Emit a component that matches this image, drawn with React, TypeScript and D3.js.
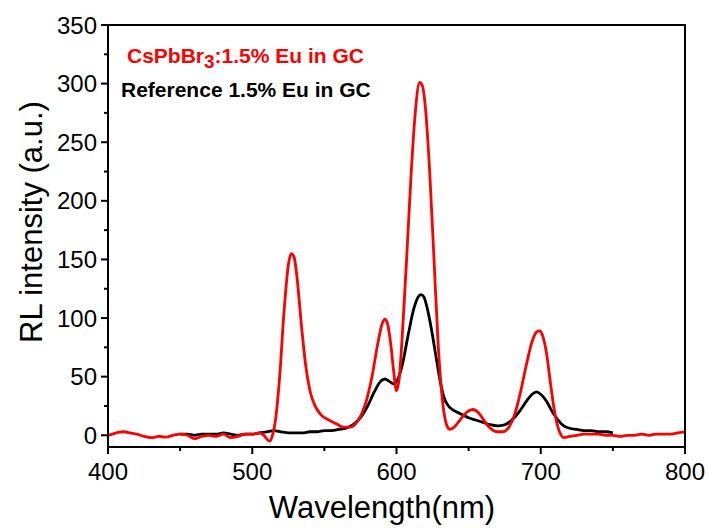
import * as d3 from 'd3'

// CsPbBr3:1.5% Eu in GC (red)
const redWavelength = [400, 403, 407, 411, 415, 420, 425, 430, 435, 440, 445, 450, 455, 460, 465, 470, 475, 480, 485, 490, 495, 500, 505, 508, 512, 514, 516, 519, 522, 525, 527, 529, 531, 534, 537, 540, 544, 548, 553, 558, 563, 568, 573, 578, 583, 587, 590, 592, 594, 596, 598, 600, 602, 604, 607, 610, 613, 616, 618, 620, 623, 626, 629, 632, 635, 637, 640, 644, 649, 653, 657, 661, 665, 670, 674, 678, 682, 686, 690, 694, 697, 699, 701, 704, 707, 710, 713, 716, 720, 725, 730, 735, 740, 745, 750, 755, 760, 765, 770, 775, 780, 785, 790, 795, 800]
const redIntensity = [0, 1, 2.5, 3, 2, 1, -1, -2, -1, -1.5, 0, 1, 0, -3, -1, 0, -1, 1, -2, -1, 1, 1, 2, 0, -5, 0, 12, 50, 105, 145, 155, 152, 135, 95, 60, 38, 24, 17, 13, 10, 7, 7, 12, 25, 50, 78, 95, 99, 94, 78, 55, 38, 50, 85, 150, 220, 275, 301, 298, 280, 225, 150, 75, 28, 8, 5, 7, 13, 20, 22, 19, 12, 6, 3, 3, 7, 18, 37, 60, 80, 88, 89, 86, 70, 42, 17, 3, -2, -1, 0, 1, 1, 1, 0, 0, -1, 0, 0, 1, 0, 1, 1, 1, 2, 3]

// Reference 1.5% Eu in GC (black)
const blackWavelength = [450, 455, 460, 465, 470, 475, 480, 485, 490, 495, 500, 505, 510, 515, 520, 525, 530, 535, 540, 545, 550, 555, 560, 565, 570, 575, 580, 585, 589, 592, 595, 598, 601, 604, 608, 612, 615, 617, 619, 621, 624, 627, 630, 633, 636, 640, 645, 650, 655, 660, 665, 670, 675, 680, 685, 690, 694, 697, 700, 704, 708, 712, 716, 720, 725, 730, 735, 740, 745, 750]
const blackIntensity = [1, 1, 0, 1, 1, 1, 2, 1, 0, 1, 1, 2, 3, 4, 3, 2, 2, 2, 3, 3, 4, 4, 5, 6, 9, 15, 25, 38, 46, 48, 46, 44, 48, 60, 85, 108, 118, 120, 118, 110, 92, 70, 48, 32, 25, 21, 18, 15, 13, 11, 9, 8, 9, 13, 20, 29, 35, 37, 35, 29, 20, 13, 8, 6, 5, 4, 4, 3, 3, 2]

const xTicks = [400, 500, 600, 700, 800]
const yTicks = [0, 50, 100, 150, 200, 250, 300, 350]

const W = 708
const H = 528
const left = 108
const right = 685
const top = 25
const bottom = 447
const font = 'Arial, "Liberation Sans", sans-serif'

const App = () => {
  const x = d3.scaleLinear().domain([400, 800]).range([left, right])
  const y = d3.scaleLinear().domain([-10, 350]).range([bottom, top])

  const makePath = d3.line<[number, number]>()
    .x((d) => x(d[0]))
    .y((d) => y(d[1]))
    .curve(d3.curveMonotoneX)

  const redPath = makePath(redWavelength.map((w, i) => [w, redIntensity[i]]))
  const blackPath = makePath(blackWavelength.map((w, i) => [w, blackIntensity[i]]))

  const xMinor = d3.range(450, 800, 100)
  const yMinor = d3.range(25, 350, 50)

  return (
    <svg width={W} height={H} style={{ position: 'absolute', left: 0, top: 0 }} fontFamily={font}>
      <rect x={0} y={0} width={W} height={H} fill='white' />
      <defs>
        <clipPath id='plot'>
          <rect x={left} y={top} width={right - left} height={bottom - top} />
        </clipPath>
      </defs>
      <g clipPath='url(#plot)' fill='none' strokeWidth={2.8} strokeLinejoin='round'>
        <path d={blackPath ?? ''} stroke='black' />
        <path d={redPath ?? ''} stroke='#ff0000' />
      </g>
      <rect x={left} y={top} width={right - left} height={bottom - top} fill='none' stroke='black' strokeWidth={2} />
      {yTicks.map((t) => (
        <g key={'y' + t}>
          <line x1={left - 7} x2={left} y1={y(t)} y2={y(t)} stroke='black' strokeWidth={2} />
          <text x={left - 11} y={y(t)} dy='0.36em' textAnchor='end' fontSize={24}>{t}</text>
        </g>
      ))}
      {yMinor.map((t) => (
        <line key={'ym' + t} x1={left - 4} x2={left} y1={y(t)} y2={y(t)} stroke='black' strokeWidth={2} />
      ))}
      {xTicks.map((t) => (
        <g key={'x' + t}>
          <line x1={x(t)} x2={x(t)} y1={bottom} y2={bottom + 7} stroke='black' strokeWidth={2} />
          <text x={x(t)} y={bottom + 33} textAnchor='middle' fontSize={24}>{t}</text>
        </g>
      ))}
      {xMinor.map((t) => (
        <line key={'xm' + t} x1={x(t)} x2={x(t)} y1={bottom} y2={bottom + 4} stroke='black' strokeWidth={2} />
      ))}
      <text x={382} y={518} textAnchor='middle' fontSize={31}>Wavelength(nm)</text>
      <text transform={`translate(42, 222) rotate(-90)`} textAnchor='middle' fontSize={31}>RL intensity (a.u.)</text>
      <text x={127} y={63} fontSize={21} fontWeight='bold' fill='#ff0000'>
        CsPbBr<tspan dy={5} fontSize={19}>3</tspan><tspan dy={-5}>:1.5% Eu in GC</tspan>
      </text>
      <text x={121} y={97} fontSize={21} fontWeight='bold' fill='black'>Reference 1.5% Eu in GC</text>
    </svg>
  )
}

export default App
